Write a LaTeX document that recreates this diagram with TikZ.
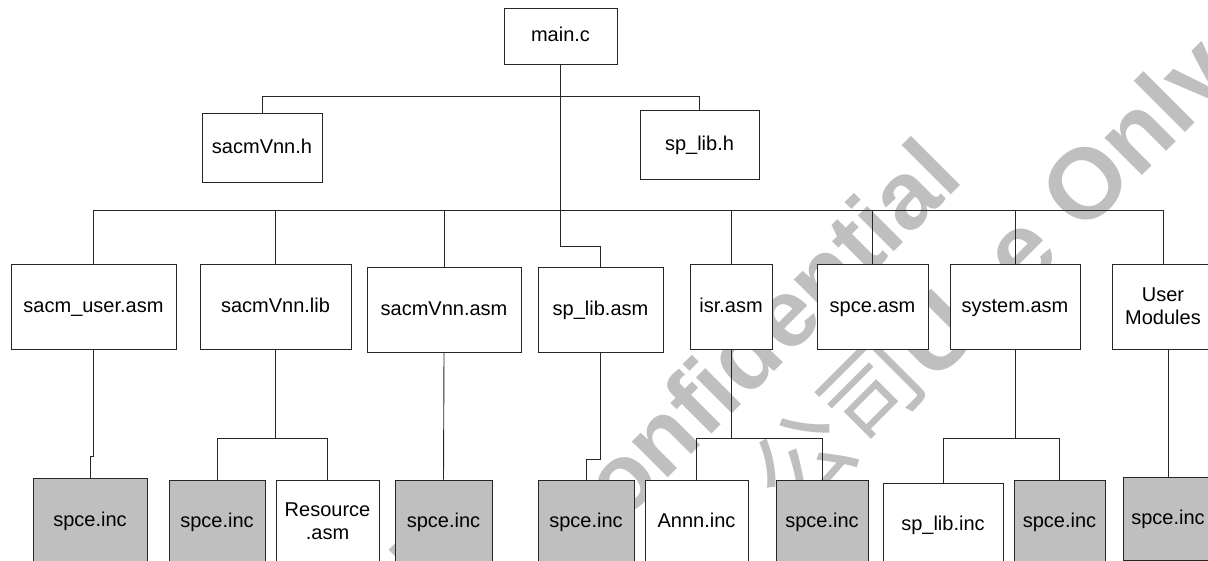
\documentclass[tikz,border=0pt]{standalone}
\usepackage{fontspec}
\setmainfont{Liberation Sans}
\newfontfamily\cjkfont{Noto Sans CJK SC}
\newcommand\mkbox[7]{\node[#1, minimum width={(#5-#4)*1pt}, minimum height={(#7-#6)*1pt}] (#2) at ({(#4+#5)/2},{(#6+#7)/2}) {#3};}
\begin{document}
\begin{tikzpicture}[x=1pt,y=-1pt,
  base/.style={draw=black!85, line width=0.9pt, fill=white, inner sep=0pt,
              font=\fontsize{20}{23}\selectfont},
  box/.style={base, text height=14pt, text depth=2pt},
  gbox/.style={box, fill=black!25},
  mbox/.style={base, align=center},
  conn/.style={draw=black!85, line width=0.9pt},
  wm/.style={text=black!25, inner sep=0pt, rotate=45, anchor=base west}]
\useasboundingbox (0,0) rectangle (1208,561);
\clip (0,0) rectangle (1208,561);
% watermark
\node[wm, font=\fontsize{96}{96}\selectfont\bfseries] (wmA) at (209,802) {Sunplus};
\node[wm, font=\fontsize{96}{96}\selectfont\bfseries] (wmB) at (573,573) {Confidential};
\node[wm, font=\fontsize{98}{98}\selectfont\cjkfont] (wmC) at (793,522) {公司};
\node[wm, font=\fontsize{100}{100}\selectfont\bfseries] (wmD) at (933,385) {Use Only};
% boxes
\mkbox{box}{main}{main.c}{504}{617}{8}{64}
\mkbox{box}{sacmh}{sacmVnn.h}{202}{322}{113}{182}
\mkbox{box}{splibh}{sp\_lib.h}{640}{759}{110}{179}
\mkbox{box}{sacmuser}{sacm\_user.asm}{11}{176}{264}{349}
\mkbox{box}{sacmlib}{sacmVnn.lib}{200}{351}{264}{349}
\mkbox{box}{sacmasm}{sacmVnn.asm}{367}{521}{267}{352}
\mkbox{box}{splibasm}{sp\_lib.asm}{538}{663}{267}{352}
\mkbox{box}{isr}{isr.asm}{690}{772}{264}{349}
\mkbox{box}{spceasm}{spce.asm}{817}{928}{264}{349}
\mkbox{box}{system}{system.asm}{950}{1080}{264}{349}
\mkbox{mbox}{user}{User\\Modules}{1112}{1214}{264}{349}
\mkbox{gbox}{s1}{spce.inc}{33}{147}{478}{563}
\mkbox{gbox}{s2}{spce.inc}{169}{265}{480}{563}
\mkbox{mbox}{res}{Resource\\.asm}{276}{379}{480}{563}
\mkbox{gbox}{s3}{spce.inc}{395}{492}{480}{563}
\mkbox{gbox}{s4}{spce.inc}{538}{634}{480}{563}
\mkbox{box}{annn}{Annn.inc}{645}{748}{480}{563}
\mkbox{gbox}{s5}{spce.inc}{776}{868}{480}{563}
\mkbox{box}{splibinc}{sp\_lib.inc}{883}{1003}{483}{566}
\mkbox{gbox}{s6}{spce.inc}{1014}{1105}{480}{563}
\mkbox{gbox}{s7}{spce.inc}{1123}{1213}{477}{560}
% connectors
\coordinate (busL) at (93.5,210);
\coordinate (busR) at (1163,210);
\draw[conn] (busL) -- (busR);
\draw[conn] (main.south) -- ++(0,182) -| (splibasm.north);
\draw[conn] (sacmh.north) -- ++(0,-16) -| (splibh.north);
\draw[conn] (sacmuser.north) -- (sacmuser.north |- busL);
\draw[conn] (sacmlib.north) -- (sacmlib.north |- busL);
\draw[conn] (sacmasm.north) -- (sacmasm.north |- busL);
\draw[conn] (isr.north) -- (isr.north |- busL);
\draw[conn] (spceasm.north) -- (spceasm.north |- busL);
\draw[conn] (system.north) -- (system.north |- busL);
\draw[conn] (user.north) -- (user.north |- busL);
\draw[conn] (sacmuser.south) -- ++(0,107) -| (s1.north);
\draw[conn] (sacmlib.south) -- ++(0,89) coordinate (j1);
\draw[conn] (s2.north) |- (j1) -| (res.north);
\draw[conn] (sacmasm.south) -- (s3.north);
\draw[conn] (splibasm.south) -- ++(0,107) -| (s4.north);
\draw[conn] (isr.south) -- ++(0,89) coordinate (j2);
\draw[conn] (annn.north) |- (j2) -| (s5.north);
\draw[conn] (system.south) -- ++(0,89) coordinate (j3);
\draw[conn] (splibinc.north) |- (j3) -| (s6.north);
\draw[conn] (user.south -| s7.north) -- (s7.north);
\end{tikzpicture}
\end{document}
